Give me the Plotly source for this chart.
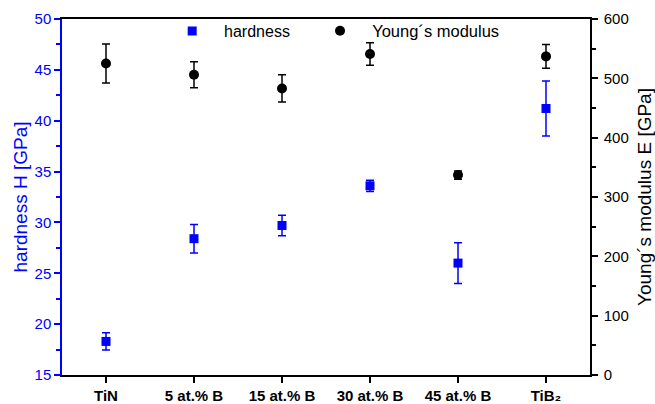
import plotly.graph_objects as go

categories = ["TiN", "5 at.% B", "15 at.% B", "30 at.% B", "45 at.% B", "TiB₂"]
hardness = [18.3, 28.4, 29.7, 33.6, 26.0, 41.2]
hardness_err = [0.85, 1.4, 1.0, 0.55, 2.0, 2.7]
modulus = [525, 506, 483, 541, 337, 537]
modulus_err = [33, 22, 23, 19, 7, 20]

x_idx = list(range(len(categories)))
FONT = "Liberation Sans, Arial, sans-serif"
BLUE = "#0000ff"
PAD = "\u00a0\u00a0"

fig = go.Figure()
fig.add_trace(go.Scatter(
    x=x_idx, y=hardness, mode="markers", name=PAD + "hardness",
    marker=dict(symbol="square", size=9, color=BLUE),
    error_y=dict(type="data", array=hardness_err, visible=True, color=BLUE, thickness=1.5, width=4),
    yaxis="y", legend="legend", showlegend=True,
))
fig.add_trace(go.Scatter(
    x=x_idx, y=modulus, mode="markers", name=PAD + "Young´s modulus",
    marker=dict(symbol="circle", size=10, color="black"),
    error_y=dict(type="data", array=modulus_err, visible=True, color="black", thickness=1.5, width=4),
    yaxis="y2", legend="legend2", showlegend=True,
))

fig.update_layout(
    width=655, height=404,
    margin=dict(l=62, r=65, t=19, b=29),
    paper_bgcolor="white", plot_bgcolor="white",
    showlegend=True,
    font=dict(family=FONT, size=15, color="black"),
    xaxis=dict(
        range=[-0.5, 5.5], tickmode="array", tickvals=x_idx, ticktext=categories,
        showgrid=False, zeroline=False, showline=True, linecolor="black", linewidth=1.5,
        mirror=True, ticks="outside", ticklen=6, tickwidth=1.5, tickcolor="black",
        tickfont=dict(family=FONT, size=15, color="black", weight="bold"), automargin=False,
    ),
    yaxis=dict(
        range=[15, 50], tickvals=[15, 20, 25, 30, 35, 40, 45, 50],
        showgrid=False, zeroline=False, showline=True, linecolor=BLUE, linewidth=1.5,
        ticks="outside", ticklen=6, tickwidth=1.5, tickcolor=BLUE,
        minor=dict(ticks="outside", ticklen=4, tickwidth=1.5, tickcolor=BLUE, dtick=2.5, showgrid=False),
        tickfont=dict(family=FONT, size=15, color=BLUE), automargin=False,
        title=dict(text="hardness H [GPa]", font=dict(family=FONT, size=19, color=BLUE), standoff=2),
    ),
    yaxis2=dict(
        range=[0, 600], tickvals=[0, 100, 200, 300, 400, 500, 600],
        overlaying="y", side="right",
        showgrid=False, zeroline=False, showline=True, linecolor="black", linewidth=1.5,
        ticks="outside", ticklen=6, tickwidth=1.5, tickcolor="black",
        minor=dict(ticks="outside", ticklen=4, tickwidth=1.5, tickcolor="black", dtick=50, showgrid=False),
        tickfont=dict(family=FONT, size=15, color="black"), automargin=False, ticklabelstandoff=3,
        title=dict(text="Young´s modulus E [GPa]", font=dict(family=FONT, size=19, color="black"), standoff=11),
    ),
    legend=dict(x=0.203, y=0.966, xanchor="left", yanchor="middle", bgcolor="rgba(0,0,0,0)",
                itemwidth=36, font=dict(family=FONT, size=16, color="black")),
    legend2=dict(x=0.483, y=0.966, xanchor="left", yanchor="middle", bgcolor="rgba(0,0,0,0)",
                 itemwidth=36, font=dict(family=FONT, size=16.5, color="black")),
)

fig.write_html("out.html")
